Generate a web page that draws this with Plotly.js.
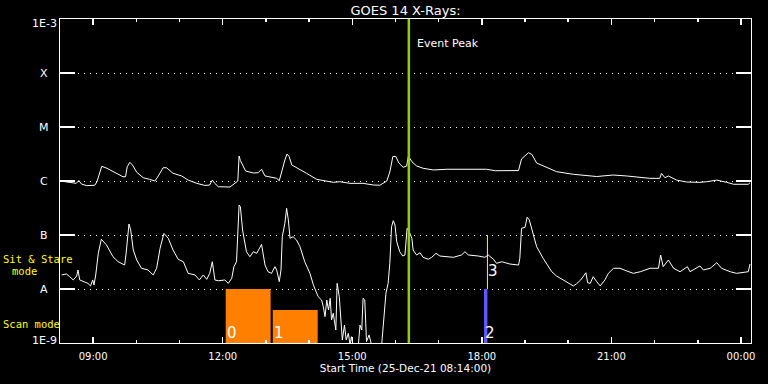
<!DOCTYPE html>
<html>
<head>
<meta charset="utf-8">
<script src="https://cdn.plot.ly/plotly-3.0.1.min.js"></script>
<style>
  html, body { margin: 0; padding: 0; background: #000; }
  #chart { width: 768px; height: 384px; }
</style>
</head>
<body>
<div id="chart"></div>
<script>
// Time in hours of 25-Dec-21 (24 = 00:00 on 26-Dec)
const longHours = [8.24,8.37,8.51,8.61,8.67,8.73,8.85,9.04,9.09,9.20,9.32,9.50,9.69,9.75,9.79,9.85,9.91,10.01,10.16,10.31,10.43,10.51,10.62,10.70,10.85,11.05,11.20,11.40,11.59,11.70,11.76,11.82,11.90,12.17,12.28,12.35,12.38,12.41,12.53,12.71,12.82,12.90,12.98,13.25,13.31,13.37,13.44,13.49,13.54,13.60,13.75,13.94,14.18,14.56,14.71,14.95,15.25,15.49,15.64,15.80,15.87,15.94,16.01,16.08,16.18,16.26,16.30,16.38,16.49,16.64,16.88,17.19,18.11,18.31,18.85,18.92,19.08,19.16,19.27,19.42,19.50,19.73,20.12,20.66,21.04,21.35,21.89,22.12,22.16,22.24,22.32,22.51,22.74,23.05,23.21,23.44,23.67,23.83,24.17,24.21];
const longFlux = [1.0e-6,9.58e-7,9.17e-7,9.05e-7,1.02e-6,8.79e-7,8.2e-7,8.35e-7,9.8e-7,1.87e-6,1.72e-6,1.42e-6,1.20e-6,1.20e-6,1.84e-6,2.22e-6,1.98e-6,1.45e-6,1.15e-6,1.07e-6,1.0e-6,1.24e-6,1.76e-6,1.76e-6,1.39e-6,1.24e-6,1.04e-6,9.05e-7,8.27e-7,8.42e-7,1.04e-6,8.98e-7,7.84e-7,7.74e-7,9.17e-7,1.0e-6,2.9e-6,2.4e-6,1.53e-6,1.41e-6,1.42e-6,1.65e-6,1.24e-6,1.12e-6,1.01e-6,1.6e-6,2.45e-6,3.16e-6,2.82e-6,1.98e-6,1.72e-6,1.39e-6,1.07e-6,9.45e-7,9.7e-7,9.05e-7,9.05e-7,8.42e-7,8.35e-7,1.0e-6,1.47e-6,2.84e-6,2.84e-6,2.15e-6,1.79e-6,1.9e-6,2.9e-6,2.28e-6,1.9e-6,1.72e-6,1.6e-6,1.65e-6,1.65e-6,1.55e-6,1.56e-6,2.56e-6,3.34e-6,3.1e-6,2.15e-6,1.9e-6,1.74e-6,1.49e-6,1.33e-6,1.21e-6,1.29e-6,1.24e-6,1.12e-6,1.12e-6,1.39e-6,1.15e-6,1.24e-6,1.04e-6,9.58e-7,9.45e-7,9.7e-7,1.04e-6,9.45e-7,8.7e-7,8.7e-7,9.3e-7];

const shortHours = [8.27,8.38,8.46,8.54,8.62,8.65,8.69,8.77,8.88,8.94,8.99,9.02,9.06,9.12,9.19,9.31,9.46,9.58,9.73,9.76,9.80,9.83,9.87,9.93,10.01,10.12,10.27,10.39,10.47,10.55,10.64,10.74,10.85,10.97,11.09,11.20,11.36,11.46,11.55,11.63,11.70,11.76,11.82,11.90,12.05,12.13,12.21,12.26,12.32,12.36,12.38,12.41,12.46,12.55,12.63,12.71,12.79,12.90,12.94,12.98,13.05,13.13,13.21,13.25,13.31,13.35,13.38,13.44,13.48,13.52,13.56,13.63,13.71,13.79,13.90,14.02,14.10,14.21,14.29,14.33,14.37,14.41,14.45,14.49,14.52,14.56,14.62,14.65,14.70,14.73,14.77,14.82,14.86,14.91,14.95,14.98,15.02,15.14,15.18,15.22,15.25,15.29,15.33,15.39,15.45,15.68,15.73,15.78,15.83,15.87,15.91,15.95,15.99,16.03,16.10,16.17,16.22,16.27,16.32,16.38,16.41,16.49,16.57,16.64,16.76,16.84,16.94,17.03,17.34,17.53,17.61,17.69,17.92,18.07,18.15,18.27,18.34,18.46,18.65,18.85,18.88,18.92,19.00,19.05,19.10,19.18,19.27,19.42,19.62,19.73,19.89,20.00,20.12,20.19,20.29,20.41,20.45,20.51,20.58,20.66,20.74,20.85,20.93,21.05,21.20,21.36,21.51,21.67,21.90,22.09,22.14,22.20,22.32,22.44,22.59,22.76,22.82,23.05,23.13,23.29,23.44,23.55,23.75,23.90,24.09,24.17,24.21];
const shortFlux = [1.82e-8,1.90e-8,1.69e-8,1.47e-8,1.74e-8,2.25e-8,1.47e-8,1.37e-8,1.27e-8,1.14e-8,1.47e-8,1.19e-8,1.82e-8,4.58e-8,8.35e-8,6.52e-8,3.96e-8,3.2e-8,2.78e-8,4.26e-8,1.07e-7,1.6e-7,1.24e-7,5.27e-8,3.44e-8,2.42e-8,2.25e-8,1.82e-8,2.42e-8,5.67e-8,1.07e-7,8.7e-8,5.27e-8,3.55e-8,3.2e-8,1.95e-8,1.82e-8,1.47e-8,1.82e-8,1.51e-8,1.95e-8,3.2e-8,1.47e-8,1.42e-8,1.47e-8,1.27e-8,1.58e-8,2.59e-8,3.2e-8,1.53e-7,3.59e-7,3.34e-7,1.24e-7,4.9e-8,3.96e-8,4.9e-8,4.58e-8,6.72e-8,4.58e-8,2.78e-8,2.09e-8,1.95e-8,2.59e-8,2.25e-8,1.37e-8,2.25e-8,9.3e-8,1.65e-7,3.12e-7,1.9e-7,8.7e-8,9.3e-8,8.07e-8,6.07e-8,3.2e-8,1.95e-8,1.19e-8,7.2e-9,6.25e-9,4.7e-9,3.07e-9,6.25e-9,4.08e-9,6.72e-9,2.67e-9,3.55e-9,1.74e-9,1.27e-8,7.2e-9,2.67e-9,1.14e-9,2.15e-9,1.14e-9,1.51e-9,9e-10,1.31e-9,9e-10,9e-10,2.15e-9,1.74e-9,6.72e-9,6.25e-9,1.06e-9,1.41e-9,9e-10,9e-10,3.07e-9,8.35e-9,1.27e-8,2.99e-8,1.42e-7,1.84e-7,1.53e-7,7.51e-8,4.9e-8,4.08e-8,4.26e-8,1.33e-7,1.15e-7,8.7e-8,5.27e-8,4.26e-8,4.7e-8,3.86e-8,3.55e-8,3.86e-8,4.58e-8,4.08e-8,3.86e-8,4.26e-8,4.9e-8,4.26e-8,4.08e-8,3.86e-8,4.26e-8,3.55e-8,2.99e-8,3.2e-8,2.9e-8,2.78e-8,3.7e-8,1.33e-7,1.39e-7,2.13e-7,1.9e-7,1.07e-7,6.07e-8,3.7e-8,2.09e-8,1.74e-8,1.47e-8,1.31e-8,1.14e-8,1.24e-8,1.47e-8,2.0e-8,1.31e-8,1.27e-8,1.69e-8,1.37e-8,1.14e-8,1.47e-8,1.95e-8,2.42e-8,2.42e-8,2.15e-8,1.95e-8,2.09e-8,2.42e-8,2.42e-8,4.26e-8,2.59e-8,3.44e-8,2.42e-8,2.09e-8,2.59e-8,2.09e-8,2.67e-8,2.25e-8,2.42e-8,3.07e-8,2.42e-8,2.09e-8,1.95e-8,2.09e-8,2.09e-8,2.9e-8];

// Axis ticks
const tickHours = [9, 12, 15, 18, 21, 24];
const tickLabels = ['09:00', '12:00', '15:00', '18:00', '21:00', '00:00'];
const levelValues = [1e-9, 1e-8, 1e-7, 1e-6, 1e-5, 1e-4, 1e-3];
const levelLabels = ['1E-9', 'A', 'B', 'C', 'M', 'X', '1E-3'];

// Observations (scan mode blocks)
const scanLabels = ['0', '1', '2'];
const scanStart = [12.07, 13.16, 18.05];
const scanEnd = [13.11, 14.20, 18.13];
const scanTop = [1e-8, 4.08e-9, 1e-8];
const scanBase = 1e-9;
// Sit & stare observation
const stareLabel = '3';
const stareHour = 18.13;
const stareRange = [1e-8, 1e-7];
// Event peak
const eventPeakHour = 16.31;

const scanColors = ['#ff8000', '#ff8000', '#5a5aff'];

const traces = [
  {
    type: 'bar',
    x: scanStart,
    y: scanTop.map(v => v - scanBase),
    base: scanStart.map(() => scanBase),
    width: scanStart.map((s, i) => scanEnd[i] - s),
    offset: 0,
    marker: { color: scanColors, line: { width: 0 } },
    hoverinfo: 'skip'
  },
  {
    type: 'scatter', mode: 'lines',
    x: [stareHour, stareHour], y: stareRange,
    line: { color: '#ffff00', width: 1 }
  },
  {
    type: 'scatter', mode: 'lines',
    x: longHours, y: longFlux,
    line: { color: '#ffffff', width: 1 }
  },
  {
    type: 'scatter', mode: 'lines',
    x: shortHours, y: shortFlux,
    line: { color: '#ffffff', width: 1 }
  },
  {
    type: 'scatter', mode: 'lines',
    x: [eventPeakHour, eventPeakHour], y: [levelValues[0], levelValues[levelValues.length - 1]],
    line: { color: '#99cc00', width: 2.5 }
  }
];

const plotW = 768 - 60 - 17;
const plotH = 384 - 19 - 41;

const annotations = [];
levelValues.forEach((v, i) => {
  let yshift = 0;
  if (i === 0) yshift = 3;
  if (i === levelValues.length - 1) yshift = -4;
  annotations.push({
    xref: 'paper', x: -16 / plotW, xanchor: 'center',
    yref: 'y', y: Math.log10(v), yanchor: 'middle', yshift: yshift,
    text: levelLabels[i], showarrow: false,
    font: { family: 'DejaVu Sans', size: 11, color: '#ffffff' }
  });
});
scanLabels.forEach((t, i) => {
  annotations.push({
    xref: 'x', x: scanStart[i], xanchor: 'left', xshift: -1,
    yref: 'paper', y: 0, yanchor: 'bottom', yshift: -1,
    text: t, showarrow: false,
    font: { family: 'DejaVu Sans', size: 15, color: '#ffffff' }
  });
});
annotations.push({
  xref: 'x', x: stareHour, xanchor: 'left', xshift: -1,
  yref: 'paper', y: (343 - 271) / plotH, yanchor: 'middle',
  text: stareLabel, showarrow: false,
  font: { family: 'DejaVu Sans', size: 15, color: '#ffffff' }
});
annotations.push({
  xref: 'x', x: eventPeakHour, xanchor: 'left', xshift: 6,
  yref: 'paper', y: (343 - 43) / plotH, yanchor: 'middle',
  text: 'Event Peak', showarrow: false,
  font: { family: 'DejaVu Sans', size: 11, color: '#ffffff' }
});
const yellowFont = { family: 'DejaVu Sans Mono', size: 10.5, color: '#ffff00' };
annotations.push({
  xref: 'paper', x: (1 - 60) / plotW, xanchor: 'left',
  yref: 'paper', y: (343 - 258.5) / plotH, yanchor: 'middle',
  text: 'Sit & Stare', showarrow: false, font: yellowFont
});
annotations.push({
  xref: 'paper', x: (24.5 - 60) / plotW, xanchor: 'center',
  yref: 'paper', y: (343 - 271) / plotH, yanchor: 'middle',
  text: 'mode', showarrow: false, font: yellowFont
});
annotations.push({
  xref: 'paper', x: (1 - 60) / plotW, xanchor: 'left',
  yref: 'paper', y: (343 - 323.5) / plotH, yanchor: 'middle',
  text: 'Scan mode', showarrow: false, font: yellowFont
});

const layout = {
  width: 768, height: 384,
  paper_bgcolor: '#000000', plot_bgcolor: '#000000',
  margin: { l: 60, r: 17, t: 19, b: 41, pad: 0 },
  showlegend: false,
  barmode: 'overlay',
  font: { family: 'DejaVu Sans', color: '#ffffff', size: 10 },
  title: {
    text: 'GOES 14 X-Rays:',
    font: { family: 'DejaVu Sans', size: 13, color: '#ffffff' },
    x: 0.5, xref: 'paper', xanchor: 'center',
    y: 1 - 10 / 384, yref: 'container', yanchor: 'middle'
  },
  xaxis: {
    range: [8.233, 24.233],
    tickmode: 'array', tickvals: tickHours, ticktext: tickLabels,
    ticks: 'inside', ticklen: 6, tickwidth: 1.5, tickcolor: '#ffffff',
    minor: { dtick: 1, tick0: 0, ticks: 'inside', ticklen: 3, tickwidth: 1.5, tickcolor: '#ffffff', showgrid: false },
    showline: true, linecolor: '#ffffff', linewidth: 1, mirror: 'all',
    showgrid: false, zeroline: false,
    tickfont: { family: 'DejaVu Sans', size: 10, color: '#ffffff' },
    ticklabelstandoff: 4,
    title: { text: 'Start Time (25-Dec-21 08:14:00)', font: { family: 'DejaVu Sans', size: 10.5, color: '#ffffff' }, standoff: 3 }
  },
  yaxis: {
    type: 'log', range: [-9, -3],
    tickmode: 'array', tickvals: levelValues, ticktext: levelLabels,
    showticklabels: false,
    ticks: 'inside', ticklen: 15, tickwidth: 1.5, tickcolor: '#ffffff',
    showline: true, linecolor: '#ffffff', linewidth: 1, mirror: 'all',
    showgrid: true, gridcolor: '#ffffff', gridwidth: 1, griddash: '1px,5px',
    zeroline: false
  },
  annotations: annotations
};

Plotly.newPlot('chart', traces, layout, { staticPlot: true, displayModeBar: false });
</script>
</body>
</html>
